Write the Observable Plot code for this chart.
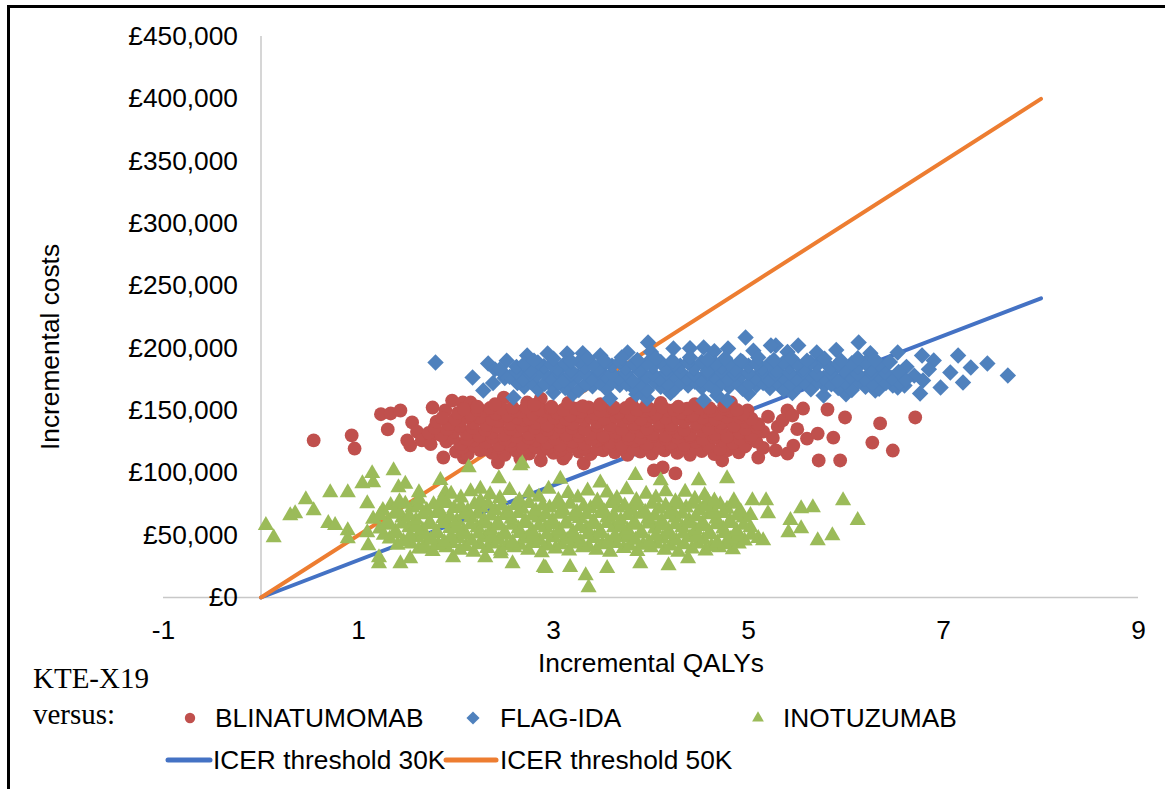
<!DOCTYPE html>
<html><head><meta charset="utf-8">
<script src="https://cdn.jsdelivr.net/npm/d3@7"></script>
<script src="https://cdn.jsdelivr.net/npm/@observablehq/plot@0.6"></script>
<style>
html,body{margin:0;padding:0;background:#fff;}
body{width:1165px;height:789px;overflow:hidden;position:relative;font-family:"Liberation Sans",Arial,sans-serif;}
#frame{position:absolute;left:7px;top:5px;width:1200px;height:820px;border-left:3px solid #000;border-top:3px solid #000;}
#chart{position:absolute;left:0;top:0;}
#overlay{position:absolute;left:0;top:0;}
</style></head><body>
<div id="frame"></div>
<div id="chart"></div>
<svg id="overlay" width="1165" height="789"></svg>
<script>
// ---- axis ticks ----
const xTicks = [-1, 1, 3, 5, 7, 9];
const yTicks = [0, 50000, 100000, 150000, 200000, 250000, 300000, 350000, 400000, 450000];

// ---- ICER threshold lines (QALY, cost) ----
const icer30K = [[0, 0], [8, 240000]];
const icer50K = [[0, 0], [8, 400000]];

// ---- KTE-X19 versus BLINATUMOMAB (incremental QALYs, incremental costs) ----
const blinatumomab = [
  [0.54,126000],[0.93,130000],[0.96,119500],[1.23,147000],[1.33,147600],[1.43,150000],[1.30,134800],[1.50,126000],
  [1.55,140400],[1.53,122000],[1.60,133000],[1.65,126000],[1.74,123000],[1.81,131500],[1.76,152400],[1.89,150000],
  [1.96,158000],[2.07,156400],[2.15,156400],[2.49,160400],[2.73,156400],[2.87,159600],
  [1.87,112300],[2.08,112300],[2.43,108300],[2.66,111500],[2.87,109900],[3.10,111500],[3.31,107500],[4.03,101900],
  [4.12,104300],[4.25,99500],
  [4.82,156400],[4.99,150000],[5.40,150000],[5.56,151600],[5.81,150800],[5.99,144400],[6.35,139600],[6.71,144400],
  [5.87,128300],[6.27,124300],[6.48,117900],[5.72,109900],[5.94,109900],[5.60,127500],[5.40,115500],[5.10,112300],
  [4.73,109900],[5.71,131500],[5.46,121900],
  [5.20,145000],[5.25,128000],[5.30,137000],[5.15,120000],[5.35,142000],[5.50,135000],[5.45,146000],[5.28,118000],
  [2.00,117000],[2.12,115000],[2.25,118000],[2.37,116000],[2.50,114500],[2.62,117500],[2.75,115500],[2.88,118000],
  [3.00,116000],[3.13,114500],[3.26,117000],[3.38,115000],[3.51,118000],[3.63,116500],[3.76,114500],[3.89,117000],
  [4.01,115500],[4.14,118000],[4.27,116000],[4.40,114500],[4.52,117500],[4.65,115000],[4.78,118000],[4.90,116500],
  [2.06,120000],[2.19,121500],[2.31,119000],[2.44,120500],[2.56,122000],[2.69,119500],[2.81,121000],[2.94,120000],
  [3.07,118500],[3.19,121500],[3.32,120000],[3.45,119000],[3.57,121500],[3.70,120500],[3.82,119000],[3.95,121000],
  [4.08,120000],[4.21,122000],[4.33,119500],[4.46,120500],[4.59,121500],[4.71,119000],[4.84,120500],[4.96,121000],
  [1.90,125000],[2.05,123000],[2.18,126000],[2.31,124500],[2.44,122500],[2.56,125500],[2.69,123500],[2.82,126000],
  [2.94,124000],[3.07,122000],[3.20,125000],[3.32,123500],[3.45,126000],[3.58,124500],[3.70,122500],[3.83,125500],
  [3.96,123000],[4.08,126000],[4.21,124000],[4.34,122500],[4.46,125000],[4.59,123500],[4.72,126000],[4.84,124000],
  [4.97,122000],[5.08,125000],
  [1.97,128000],[2.11,127000],[2.24,129500],[2.37,128500],[2.50,127000],[2.62,129000],[2.75,128000],[2.88,130000],
  [3.01,127500],[3.13,128500],[3.26,129500],[3.39,127000],[3.51,128500],[3.64,130000],[3.77,127500],[3.89,128000],
  [4.02,129500],[4.15,127500],[4.27,128500],[4.40,129000],[4.53,127000],[4.65,128500],[4.78,130000],[4.91,127500],
  [5.02,128500],
  [1.72,132000],[1.85,130000],[1.98,133000],[2.11,131000],[2.24,129500],[2.37,132500],[2.50,130500],[2.62,133500],
  [2.75,131000],[2.88,129000],[3.00,132000],[3.13,130500],[3.26,133000],[3.39,131500],[3.51,129500],[3.64,132500],
  [3.77,130000],[3.90,133000],[4.02,131000],[4.15,129500],[4.28,132000],[4.40,130500],[4.53,133500],[4.66,131000],
  [4.78,129000],[4.91,132000],[5.03,130000],[5.15,133000],
  [1.78,136000],[1.91,135000],[2.04,137500],[2.17,136000],[2.30,134500],[2.43,137000],[2.56,135500],[2.68,137500],
  [2.81,136000],[2.94,134500],[3.07,137000],[3.19,136000],[3.32,135000],[3.45,137500],[3.58,136500],[3.70,135000],
  [3.83,137000],[3.96,135500],[4.09,137500],[4.21,136000],[4.34,134500],[4.47,137000],[4.59,135500],[4.72,136500],
  [4.85,137500],[4.97,135000],[5.09,136500],
  [1.80,141000],[1.93,139000],[2.05,142000],[2.18,140000],[2.31,138500],[2.43,141500],[2.56,139500],[2.69,142500],
  [2.82,140000],[2.94,138000],[3.07,141000],[3.20,139500],[3.32,142000],[3.45,140500],[3.58,138500],[3.71,141500],
  [3.83,139000],[3.96,142000],[4.09,140000],[4.21,138500],[4.34,141000],[4.47,139500],[4.59,142500],[4.72,140000],
  [4.85,138000],[4.97,141000],[5.10,139000],
  [1.86,144000],[1.99,143000],[2.12,145000],[2.24,144500],[2.37,143000],[2.50,145500],[2.63,144000],[2.75,143500],
  [2.88,145000],[3.01,144000],[3.13,143000],[3.26,145500],[3.39,144000],[3.52,143500],[3.64,145000],[3.77,144500],
  [3.90,143000],[4.02,145000],[4.15,144000],[4.28,143500],[4.40,145500],[4.53,144000],[4.66,143000],[4.78,145000],
  [4.91,144500],[5.03,143500],
  [2.02,148000],[2.15,146500],[2.28,149500],[2.41,147500],[2.53,146000],[2.66,149000],[2.79,147000],[2.91,150000],
  [3.04,148000],[3.17,146000],[3.29,149000],[3.42,147500],[3.55,150000],[3.67,148000],[3.80,146500],[3.93,149500],
  [4.05,147000],[4.18,150000],[4.31,148000],[4.43,146500],[4.56,149000],[4.69,147500],[4.81,150000],[4.94,147000],
  [2.08,151000],[2.22,150500],[2.35,152000],[2.47,151500],[2.60,150000],[2.72,152500],[2.85,151000],[2.97,152000],
  [3.10,150500],[3.23,151500],[3.36,152500],[3.48,150000],[3.61,151500],[3.74,152000],[3.86,150500],[3.99,151000],
  [4.12,152500],[4.24,150500],[4.37,151500],[4.50,152000],[4.62,150000],[4.75,151500],[4.88,150500],
  [2.22,153000],[2.40,155000],[2.58,152500],[2.80,154500],[2.98,153000],[3.15,156000],[3.30,153500],[3.48,155000],
  [3.62,152500],[3.80,155500],[3.95,153500],[4.10,156000],[4.28,153000],[4.45,155000],[4.60,152000],[4.75,154000]
];

// ---- KTE-X19 versus FLAG-IDA ----
const flagIda = [
  [1.79,188500],[2.33,187700],[2.17,176500],[2.28,166000],[2.59,160400],[3.00,164400],[2.73,194100],[3.97,204500],
  [3.58,159600],[3.96,159600],[4.97,208500],[5.28,202100],[5.51,202100],[6.13,204500],[6.53,196500],[6.78,194100],
  [6.90,190100],[7.15,194100],[7.28,184500],[7.45,187700],[7.66,178100],[7.07,180500],[7.20,172500],[6.79,174100],
  [6.76,163600],[6.97,168400],[6.30,166000],[6.53,168400],[5.77,162000],[4.54,158000],[4.78,158000],[4.68,162000],
  [2.40,183000],[2.50,176000],[2.52,190000],[2.38,172000],
  [2.94,195700],[3.14,195700],[3.48,194100],[3.76,196500],[4.23,199700],[4.54,200500],[4.79,199700],[5.23,202100],
  [4.40,200000],[6.62,185000],[6.70,178000],[6.85,183000],[6.60,170000],
  [3.30,196000],[4.00,197000],[4.65,197500],[5.05,198000],[5.40,197000],[5.70,196500],[5.90,198500],[6.25,196000],
  [3.20,163500],[3.85,163000],[4.20,164000],[5.00,163500],[5.45,164000],[6.00,163000],
  [2.70,169000],[2.84,167000],[2.98,170000],[3.12,168000],[3.26,166500],[3.40,169500],[3.54,167500],[3.68,170500],
  [3.82,168000],[3.96,166500],[4.10,169000],[4.24,167000],[4.38,170000],[4.52,168500],[4.66,166500],[4.80,169000],
  [4.94,167500],[5.08,170000],[5.22,168000],[5.36,166500],[5.50,169500],[5.64,167000],[5.78,170000],[5.92,168000],
  [6.06,166500],[6.20,169000],[6.34,167500],[6.48,170000],
  [2.63,172000],[2.77,173000],[2.91,171500],[3.05,172500],[3.19,173500],[3.33,171000],[3.47,172500],[3.61,173000],
  [3.75,171500],[3.89,172000],[4.03,173500],[4.17,171500],[4.31,172500],[4.45,173000],[4.59,171000],[4.73,172500],
  [4.87,173500],[5.01,171500],[5.15,172000],[5.29,173000],[5.43,171500],[5.57,172500],[5.71,173000],[5.85,171000],
  [5.99,172500],[6.13,173500],[6.27,171500],[6.41,172000],[6.55,172500],
  [2.55,177000],[2.69,175000],[2.83,178000],[2.97,176000],[3.11,174500],[3.25,177500],[3.39,175500],[3.53,178000],
  [3.67,176000],[3.81,174000],[3.95,177000],[4.09,175500],[4.23,178500],[4.37,176000],[4.51,174500],[4.65,177500],
  [4.79,175000],[4.93,178000],[5.07,176500],[5.21,174500],[5.35,177000],[5.49,175500],[5.63,178500],[5.77,176000],
  [5.91,174000],[6.05,177000],[6.19,175500],[6.33,178000],[6.47,176000],[6.61,174500],
  [2.48,180000],[2.62,181000],[2.76,179500],[2.90,180500],[3.04,181500],[3.18,179000],[3.32,180500],[3.46,181000],
  [3.60,179500],[3.74,180000],[3.88,181500],[4.02,179500],[4.16,180500],[4.30,181000],[4.44,179000],[4.58,180500],
  [4.72,181500],[4.86,179500],[5.00,180000],[5.14,181000],[5.28,179500],[5.42,180500],[5.56,181000],[5.70,179000],
  [5.84,180500],[5.98,181500],[6.12,179500],[6.26,180000],[6.40,180500],[6.54,181000],
  [2.45,183000],[2.62,185000],[2.76,182500],[2.90,185500],[3.04,183500],[3.18,182000],[3.32,185000],[3.46,183000],
  [3.60,186000],[3.74,184000],[3.88,182500],[4.02,185500],[4.16,183500],[4.30,186000],[4.44,184000],[4.58,182000],
  [4.72,185000],[4.86,183000],[5.00,186000],[5.14,184000],[5.28,182500],[5.42,185500],[5.56,183500],[5.70,186000],
  [5.84,184000],[5.98,182000],[6.12,185000],[6.26,183000],[6.40,185500],
  [2.70,187500],[2.84,188500],[2.98,187000],[3.12,188000],[3.26,189000],[3.40,187000],[3.54,188500],[3.68,189000],
  [3.82,187500],[3.96,188000],[4.10,189000],[4.24,187000],[4.38,188500],[4.52,189000],[4.66,187500],[4.80,188000],
  [4.94,189000],[5.08,187500],[5.22,188000],[5.36,188500],[5.50,187000],[5.64,188500],[5.78,189000],[5.92,187500],
  [6.06,188000],[6.20,188500],[6.34,187000],
  [2.80,190000],[3.00,191500],[3.18,189500],[3.35,192000],[3.52,190000],[3.70,192500],[3.86,190500],[4.05,192000],
  [4.22,190000],[4.40,192500],[4.58,190500],[4.76,192000],[4.92,190000],[5.10,192500],[5.26,190500],[5.44,192000],
  [5.60,190000],[5.78,191500],[5.95,190000],[6.12,192000],[6.30,190500],[6.45,189000]
];

// ---- KTE-X19 versus INOTUZUMAB ----
const inotuzumab = [
  [0.05,57800],[0.13,48100],[0.30,65800],[0.35,67400],[0.46,78600],[0.54,69800],[0.71,84200],[0.69,59400],
  [0.76,57800],[0.89,84200],[0.89,53700],[0.89,47300],[1.04,91400],[1.14,99500],[1.15,92200],[1.36,101900],
  [1.09,75400],[1.09,52100],[1.10,41700],[1.21,32100],[1.21,27300],[1.43,27300],[1.53,31300],[2.13,104300],
  [2.68,107500],[2.44,95400],[1.41,88200],[1.62,84200],[1.89,84200],[1.97,32100],[2.30,32100],[2.46,35300],
  [2.58,27300],[2.90,24100],[1.66,39300],[1.79,41700],[2.66,105900],[2.92,23300],[3.17,24100],[3.33,17600],
  [3.36,8000],[3.55,23300],[3.89,27300],[4.18,25700],[4.38,31300],[3.84,97900],[4.10,93800],[4.49,93800],
  [4.78,95400],[4.85,45700],[5.15,45700],[5.18,77800],[5.04,77800],[4.85,77800],[5.20,67400],[5.43,61800],
  [5.41,52100],[5.54,71400],[5.66,72200],[5.54,55300],[5.71,45700],[5.86,49700],[5.97,77800],[6.12,61800],
  [4.58,77800],[4.64,69800],[1.48,91000],[1.84,94000],[2.25,87000],[3.07,95000],[3.48,92000],
  [1.62,39000],[1.76,37000],[1.90,40000],[2.04,38000],[2.18,36500],[2.32,39500],[2.46,37500],[2.60,40000],
  [2.74,38000],[2.88,36000],[3.02,39000],[3.16,37500],[3.30,40000],[3.44,38000],[3.58,36500],[3.72,39500],
  [3.86,37000],[4.00,40000],[4.14,38000],[4.28,36500],[4.42,39000],[4.56,37500],[4.70,40000],[4.84,38500],
  [1.40,42000],[1.54,43000],[1.68,41500],[1.82,42500],[1.96,43500],[2.10,41000],[2.24,42500],[2.38,43000],
  [2.52,41500],[2.66,42000],[2.80,43500],[2.94,41500],[3.08,42500],[3.22,43000],[3.36,41000],[3.50,42500],
  [3.64,43500],[3.78,41500],[3.92,42000],[4.06,43000],[4.20,41500],[4.34,42500],[4.48,43000],[4.62,41000],
  [4.76,42500],[4.90,43000],
  [1.32,47000],[1.46,45000],[1.60,48000],[1.74,46000],[1.88,44500],[2.02,47500],[2.16,45500],[2.30,48000],
  [2.44,46000],[2.58,44000],[2.72,47000],[2.86,45500],[3.00,48000],[3.14,46000],[3.28,44500],[3.42,47500],
  [3.56,45000],[3.70,48000],[3.84,46000],[3.98,44500],[4.12,47000],[4.26,45500],[4.40,48000],[4.54,46000],
  [4.68,44000],[4.82,47000],[4.96,45500],[5.10,47500],
  [1.26,50000],[1.39,51000],[1.53,49500],[1.67,50500],[1.81,51500],[1.95,49000],[2.09,50500],[2.23,51000],
  [2.37,49500],[2.51,50000],[2.65,51500],[2.79,49500],[2.93,50500],[3.07,51000],[3.21,49000],[3.35,50500],
  [3.49,51500],[3.63,49500],[3.77,50000],[3.91,51000],[4.05,49500],[4.19,50500],[4.33,51000],[4.47,49000],
  [4.61,50500],[4.75,51500],[4.89,49500],[5.03,50000],
  [1.22,55000],[1.38,53000],[1.52,56000],[1.66,54000],[1.80,52500],[1.94,55500],[2.08,53500],[2.22,56000],
  [2.36,54000],[2.50,52000],[2.64,55000],[2.78,53500],[2.92,56000],[3.06,54000],[3.20,52500],[3.34,55500],
  [3.48,53000],[3.62,56000],[3.76,54000],[3.90,52500],[4.04,55000],[4.18,53500],[4.32,56000],[4.46,54000],
  [4.60,52000],[4.74,55000],[4.88,53500],[5.02,56000],
  [1.30,58000],[1.45,59000],[1.59,57500],[1.73,58500],[1.87,59500],[2.01,57000],[2.15,58500],[2.29,59000],
  [2.43,57500],[2.57,58000],[2.71,59500],[2.85,57500],[2.99,58500],[3.13,59000],[3.27,57000],[3.41,58500],
  [3.55,59500],[3.69,57500],[3.83,58000],[3.97,59000],[4.11,57500],[4.25,58500],[4.39,59000],[4.53,57000],
  [4.67,58500],[4.81,59500],[4.95,58000],
  [1.15,63000],[1.30,61000],[1.45,64000],[1.59,62000],[1.73,60500],[1.87,63500],[2.01,61500],[2.15,64000],
  [2.29,62000],[2.43,60000],[2.57,63000],[2.71,61500],[2.85,64000],[2.99,62000],[3.13,60500],[3.27,63500],
  [3.41,61000],[3.55,64000],[3.69,62000],[3.83,60500],[3.97,63000],[4.11,61500],[4.25,64000],[4.39,62000],
  [4.53,60000],[4.67,63000],[4.81,61500],[4.95,64000],
  [1.22,66000],[1.37,67000],[1.52,65500],[1.66,66500],[1.80,67500],[1.94,65000],[2.08,66500],[2.22,67000],
  [2.36,65500],[2.50,66000],[2.64,67500],[2.78,65500],[2.92,66500],[3.06,67000],[3.20,65000],[3.34,66500],
  [3.48,67500],[3.62,65500],[3.76,66000],[3.90,67000],[4.04,65500],[4.18,66500],[4.32,67000],[4.46,65000],
  [4.60,66500],[4.74,67500],[4.88,65500],[5.02,66000],
  [1.25,70000],[1.40,69000],[1.55,72000],[1.70,70000],[1.84,68500],[1.98,71500],[2.12,69500],[2.26,72000],
  [2.40,70000],[2.54,68000],[2.68,71000],[2.82,69500],[2.96,72000],[3.10,70000],[3.24,68500],[3.38,71500],
  [3.52,69000],[3.66,72000],[3.80,70000],[3.94,68500],[4.08,71000],[4.22,69500],[4.36,72000],[4.50,70000],
  [4.64,68000],[4.78,71000],[4.92,69000],
  [1.33,74000],[1.48,75000],[1.62,73500],[1.77,74500],[1.91,75500],[2.05,73000],[2.19,74500],[2.33,75000],
  [2.47,73500],[2.61,74000],[2.75,75500],[2.89,73500],[3.03,74500],[3.17,75000],[3.31,73000],[3.45,74500],
  [3.59,75500],[3.73,73500],[3.87,74000],[4.01,75000],[4.15,73500],[4.29,74500],[4.43,75000],[4.57,73000],
  [4.71,74500],[4.85,75000],
  [1.42,77000],[1.62,79000],[1.85,78000],[2.05,80000],[2.25,77500],[2.45,79500],[2.65,78000],[2.85,80500],
  [3.05,78000],[3.25,80000],[3.45,77500],[3.65,79500],[3.85,78000],[4.05,80000],[4.25,77000],[4.45,79000],
  [4.65,77500],
  [1.95,83000],[2.15,85000],[2.35,82500],[2.55,86000],[2.75,84000],[2.95,87000],[3.15,83500],[3.35,85500],
  [3.55,84000],[3.75,86500],[3.95,83000],[4.15,85000],[4.35,84500],[4.55,82000]
];

// ---- legend ----
const seriesNames = ["BLINATUMOMAB", "FLAG-IDA", "INOTUZUMAB"];
const lineNames = ["ICER threshold 30K", "ICER threshold 50K"];

const C = {red: "#C0504D", blue: "#4F81BD", green: "#9BBB59", line30: "#4472C4", line50: "#ED7D31", axis: "#c8c8c8"};
const FONT = "'Liberation Sans', Arial, sans-serif";
const FS = 26.3;
const money = d => "£" + d3.format(",")(d);

const chart = Plot.plot({
  width: 1165, height: 789,
  marginLeft: 163, marginRight: 27, marginTop: 36, marginBottom: 192,
  x: {domain: [-1, 9], axis: null},
  y: {domain: [0, 450000], axis: null},
  style: {fontFamily: FONT, fontSize: FS + "px", background: "transparent", color: "#000", overflow: "visible"},
  marks: [
    Plot.ruleY([0], {x1: -1, x2: 9, stroke: C.axis, strokeWidth: 1.5}),
    Plot.ruleX([0], {y1: 0, y2: 450000, stroke: C.axis, strokeWidth: 1.5}),
    Plot.text(yTicks, {x: 0, y: d => d, text: money, textAnchor: "end", dx: -23, fontSize: FS, fill: "#000"}),
    Plot.text(xTicks, {x: d => d, y: 0, dy: 33, text: d => String(d), fontSize: FS, fill: "#000"}),
    Plot.line(icer30K, {x: d => d[0], y: d => d[1], stroke: C.line30, strokeWidth: 4, strokeLinecap: "round"}),
    Plot.line(icer50K, {x: d => d[0], y: d => d[1], stroke: C.line50, strokeWidth: 4, strokeLinecap: "round"}),
    Plot.dot(blinatumomab, {x: d => d[0], y: d => d[1], r: 6.9, symbol: "circle", fill: C.red, stroke: "none"}),
    Plot.dot(flagIda, {x: d => d[0], y: d => d[1], r: 7.4, symbol: "diamond2", fill: C.blue, stroke: "none"}),
    Plot.dot(inotuzumab, {x: d => d[0], y: d => d[1], r: 6, symbol: "triangle", fill: C.green, stroke: "none"})
  ]
});
document.getElementById("chart").appendChild(chart);

// ---- titles, note and legend ----
const ov = d3.select("#overlay");
function label(t, x, y, o = {}) {
  return ov.append("text").attr("x", x).attr("y", y).attr("dy", "0.35em")
    .attr("text-anchor", o.anchor || "start")
    .attr("font-family", o.serif ? "'Liberation Serif', 'Times New Roman', serif" : FONT)
    .attr("font-size", o.size || FS).attr("fill", "#000")
    .attr("transform", o.rotate ? `rotate(${o.rotate},${x},${y})` : null)
    .text(t);
}
label("Incremental QALYs", 651, 663, {anchor: "middle"});
label("Incremental costs", 50, 347, {anchor: "middle", rotate: -90});
label("KTE-X19", 33, 678, {serif: true, size: 29});
label("versus:", 33, 714, {serif: true, size: 29});

// legend row 1 (markers)
ov.append("circle").attr("cx", 190).attr("cy", 718).attr("r", 5.2).attr("fill", C.red);
label(seriesNames[0], 215, 718);
ov.append("path").attr("d", d3.symbol(d3.symbolDiamond2, 110)()).attr("transform", "translate(473,718)").attr("fill", C.blue);
label(seriesNames[1], 500, 718);
ov.append("path").attr("d", d3.symbol(d3.symbolTriangle, 60)()).attr("transform", "translate(758,718)").attr("fill", C.green);
label(seriesNames[2], 783, 718);
// legend row 2 (lines)
ov.append("line").attr("x1", 168).attr("x2", 210).attr("y1", 760).attr("y2", 760).attr("stroke", C.line30).attr("stroke-width", 5).attr("stroke-linecap", "round");
label(lineNames[0], 213, 760);
ov.append("line").attr("x1", 446).attr("x2", 496).attr("y1", 760).attr("y2", 760).attr("stroke", C.line50).attr("stroke-width", 5).attr("stroke-linecap", "round");
label(lineNames[1], 500, 760);
</script>
</body></html>
